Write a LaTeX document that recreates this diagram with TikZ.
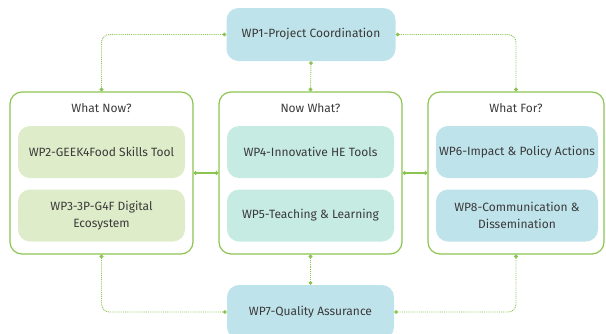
\documentclass[tikz,border=0pt]{standalone}
\usepackage{fontspec}
\setmainfont{Fira Sans}
\usetikzlibrary{arrows.meta}
\definecolor{wpgreen}{RGB}{140,196,82}
\definecolor{wpleft}{RGB}{222,236,201}
\definecolor{wpmid}{RGB}{198,235,226}
\definecolor{wpblue}{RGB}{191,227,234}
\definecolor{wptext}{RGB}{58,58,58}
\begin{document}
\begin{tikzpicture}[x=1pt,y=-1pt,
  wpbox/.style={rounded corners=12pt,minimum width=167pt,minimum height=52pt,inner sep=2pt,
    align=center,text=wptext,font=\fontsize{12}{17}\selectfont},
  groupbox/.style={draw=wpgreen,line width=1.2pt,rounded corners=12pt,minimum width=183pt,minimum height=162pt},
  header/.style={text=wptext,inner sep=0,font=\fontsize{12}{14}\selectfont},
  link/.style={wpgreen,densely dotted,line width=0.9pt,rounded corners=8pt,
    {Circle[length=3.8pt]}-{Circle[length=3.8pt]}},
  bridge/.style={wpgreen,line width=1.1pt,{Circle[length=3.8pt]}-{Circle[length=3.8pt]}}]
  \useasboundingbox (0,0) rectangle (606,333);
  % top and bottom packages
  \node[wpbox,fill=wpblue,minimum width=169pt,minimum height=53pt] (wp1) at (311,34.5) {WP1-Project Coordination};
  \node[wpbox,fill=wpblue,minimum width=167pt,minimum height=54pt] (wp7) at (310.5,312) {WP7-Quality Assurance};
  % the three groups
  \node[groupbox] (now) at (101.5,173) {};
  \node[groupbox] (mid) at (310.5,173) {};
  \node[groupbox,minimum width=176pt] (for) at (516,173) {};
  \node[header] (hnow) at (101.5,108) {What Now?};
  \node[header] (hmid) at (310.5,108) {Now What?};
  \node[header] (hfor) at (516,108) {What For?};
  \node[wpbox,fill=wpleft] (wp2) at (101.5,152) {WP2-GEEK4Food Skills Tool};
  \node[wpbox,fill=wpleft] (wp3) at (101.5,215.5) {WP3-3P-G4F Digital\\Ecosystem};
  \node[wpbox,fill=wpmid] (wp4) at (310.5,152) {WP4-Innovative HE Tools};
  \node[wpbox,fill=wpmid] (wp5) at (310.5,215.5) {WP5-Teaching \& Learning};
  \node[wpbox,fill=wpblue,minimum width=162pt] (wp6) at (517,152) {WP6-Impact \& Policy Actions};
  \node[wpbox,fill=wpblue,minimum width=162pt] (wp8) at (517,215.5) {WP8-Communication \&\\Dissemination};
  % links
  \draw[link] (wp1.west) -| (now.north);
  \draw[link] (wp1.south) -- (mid.north);
  \draw[link] (wp1.east) -| (for.north);
  \draw[link] (now.south) |- (wp7.west);
  \draw[link] (mid.south) -- (wp7.north);
  \draw[link] (for.south) |- (wp7.east);
  \draw[bridge] (now.east) -- (mid.west);
  \draw[bridge] (mid.east) -- (for.west);
\end{tikzpicture}
\end{document}
